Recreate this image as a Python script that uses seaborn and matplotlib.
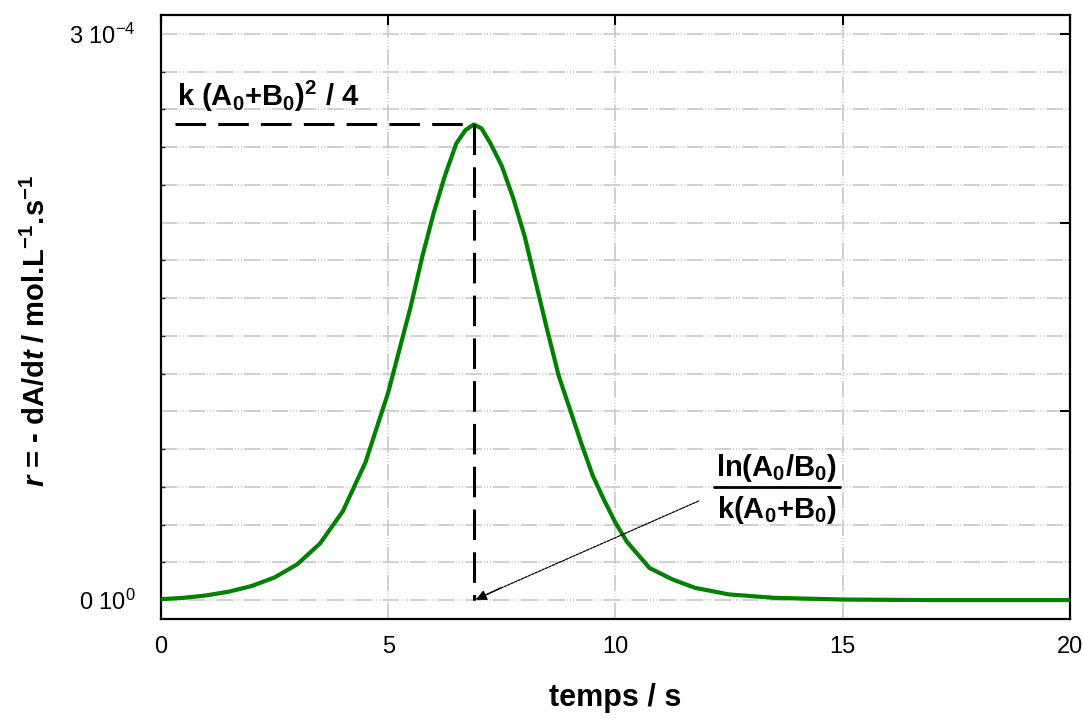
import matplotlib
matplotlib.use("Agg")
import matplotlib.pyplot as plt
from matplotlib.ticker import MultipleLocator, FixedLocator, FixedFormatter
import numpy as np
import pandas as pd
import seaborn as sns

# values (t in s, r in mol.L-1.s-1)
t_values = [0.0, 0.5, 1.0, 1.5, 2.0, 2.5, 3.0, 3.5, 4.0, 4.5, 5.0, 5.25, 5.5, 5.75,
            6.0, 6.25, 6.5, 6.7, 6.88, 7.05, 7.25, 7.5, 7.75, 8.0, 8.25, 8.5, 8.75,
            9.0, 9.25, 9.5, 9.75, 10.0, 10.25, 10.75, 11.25, 11.75, 12.5, 13.5, 15.0,
            17.0, 20.0]
r_values = [0.005, 0.012, 0.025, 0.045, 0.075, 0.12, 0.19, 0.30, 0.47, 0.73, 1.10,
            1.33, 1.56, 1.82, 2.05, 2.25, 2.42, 2.49, 2.52, 2.50, 2.42, 2.30, 2.13,
            1.93, 1.68, 1.43, 1.19, 1.01, 0.83, 0.66, 0.53, 0.41, 0.31, 0.17, 0.11,
            0.065, 0.03, 0.012, 0.003, 0.0, 0.0]
r_values = [v * 1e-4 for v in r_values]

y_tick_values = [0.0, 1e-4, 2e-4, 3e-4]
y_tick_labels = ["0 10$^0$", "", "", "3 10$^{-4}$"]
x_tick_values = [0, 5, 10, 15, 20]

guide_start_t = 0.3
arrow_from = (11.83, 0.525e-4)

df = pd.DataFrame({"t": t_values, "r": r_values})
peak = df.loc[df["r"].idxmax()]

sns.set_theme(style="white")
plt.rcParams["font.family"] = ["Liberation Sans", "DejaVu Sans"]
plt.rcParams["mathtext.fontset"] = "custom"
plt.rcParams["mathtext.rm"] = "Liberation Sans"
plt.rcParams["mathtext.it"] = "Liberation Sans:italic"
plt.rcParams["mathtext.bf"] = "Liberation Sans:bold"
plt.rcParams["mathtext.bfit"] = "Liberation Sans:italic:bold"
plt.rcParams["mathtext.default"] = "regular"
plt.rcParams["text.color"] = "black"
plt.rcParams["axes.labelcolor"] = "black"

fig = plt.figure(figsize=(10.84, 7.22), dpi=100)
ax = fig.add_axes([0.1485, 0.1427, 0.8385, 0.8365])

grid_style = (0, (10, 1.2, 0.6, 1.2, 0.6, 1.2, 0.6, 1.2))
ax.set_xlim(0, 20)
ax.set_ylim(-1e-5, 3.1e-4)
ax.xaxis.set_major_locator(FixedLocator(x_tick_values))
ax.yaxis.set_major_locator(FixedLocator(y_tick_values))
ax.yaxis.set_major_formatter(FixedFormatter(y_tick_labels))
ax.yaxis.set_minor_locator(MultipleLocator(2e-5))
ax.grid(axis="y", which="both", color="#c8c8c8", lw=1.2, ls=grid_style)
ax.grid(axis="x", which="major", color="#c8c8c8", lw=1.2, ls=grid_style)
ax.set_axisbelow(True)

sns.lineplot(data=df, x="t", y="r", ax=ax, color="#008000", lw=3.0, zorder=3)

# peak guides
ax.plot([guide_start_t, peak["t"]], [peak["r"], peak["r"]], color="black",
        lw=2.2, ls=(0, (10, 4)), zorder=4)
ax.plot([peak["t"], peak["t"]], [peak["r"], 0], color="black",
        lw=2.2, ls=(0, (10, 4)), zorder=4)

ax.text(guide_start_t + 0.05, 2.67e-4,
        r"k (A$_\mathbf{0}$+B$_\mathbf{0}$)$^\mathbf{2}$ / 4",
        fontsize=21, fontweight="bold", ha="left", va="center")

# arrow to t at peak
ax.annotate("", xy=(peak["t"], 0), xytext=arrow_from,
            arrowprops=dict(arrowstyle="-", color="black", lw=0.9, ls=(0, (2, 1)),
                            shrinkA=0, shrinkB=0), zorder=5)
ax.annotate("", xy=(peak["t"] + 0.05, 0.002e-4), xytext=(peak["t"] + 0.6, 0.065e-4),
            arrowprops=dict(arrowstyle="-|>", color="black", lw=0.9,
                            mutation_scale=16, shrinkA=0, shrinkB=0), zorder=5)

ax.text(13.55, 0.70e-4, r"ln(A$_\mathbf{0}$/B$_\mathbf{0}$)", fontsize=21,
        fontweight="bold", ha="center", va="center")
ax.plot([12.16, 14.95], [0.60e-4, 0.60e-4], color="black", lw=2, zorder=5)
ax.text(13.55, 0.48e-4, r"k(A$_\mathbf{0}$+B$_\mathbf{0}$)", fontsize=21,
        fontweight="bold", ha="center", va="center")

ax.set_xlabel("temps / s", fontsize=22, fontweight="bold", va="center")
ax.xaxis.set_label_coords(0.5, -0.131)
ax.set_ylabel(r"$\mathbfit{r}$ = - dA/d$\mathbfit{t}$ / mol.L$^\mathbf{-1}$.s$^\mathbf{-1}$",
              fontsize=21, fontweight="bold", va="center")
ax.yaxis.set_label_coords(-0.137, 0.477)

ax.tick_params(axis="both", which="major", direction="in", length=7, width=1.5,
               top=True, right=True, labelsize=17, pad=12, colors="black")
ax.tick_params(axis="y", which="minor", direction="in", length=3, width=1,
               left=True, right=False)
ax.tick_params(axis="y", pad=18)
for side in ["left", "right", "top", "bottom"]:
    ax.spines[side].set_visible(True)
    ax.spines[side].set_color("black")
    ax.spines[side].set_linewidth(1.6)

fig.savefig("out.png", dpi=100)
